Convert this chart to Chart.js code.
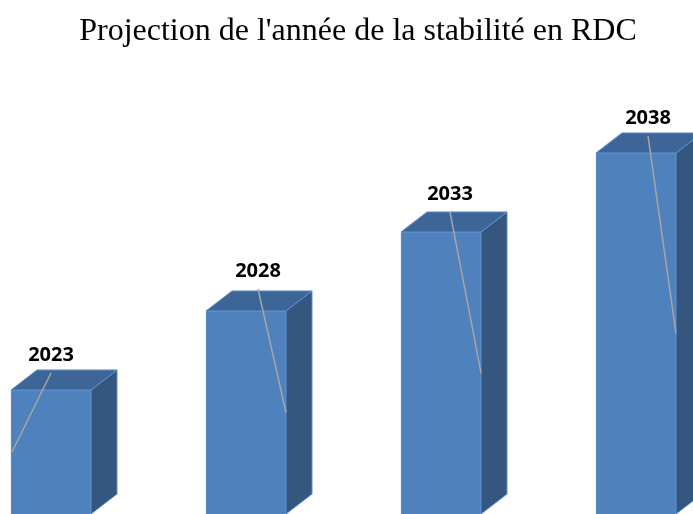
<!DOCTYPE html>
<html>
<head>
<meta charset="utf-8">
<script src="https://cdn.jsdelivr.net/npm/chart.js@4"></script>
<style>
  body { margin: 0; background: #fff; overflow: hidden; }
  #wrap { width: 693px; height: 514px; }
</style>
</head>
<body>
<div id="wrap"><canvas id="myChart" width="693" height="514"></canvas></div>
<script>
// data
const categories = ['2023', '2028', '2033', '2038'];
const years = [2023, 2028, 2033, 2038];
const title = "Projection de l'année de la stabilité en RDC";

// axis window (the picture is cropped, bars run off the bottom)
const yMin = 2015.15, yMax = 2047.68;

// look of the fake 3D bars and the moved labels
const depthX = 26, depthY = 20;
const labelShift = [0, 12, 9, 12];
const labelLift = [35, 40, 38, 35];
const leaderLeft = [true, false, false, false];

const bar3d = {
    id: 'bar3d',
    afterDatasetsDraw(chart) {
        const ctx = chart.ctx;
        const meta = chart.getDatasetMeta(0);
        meta.data.forEach((bar, i) => {
            const x = bar.x, y = bar.y, w = bar.width;
            const base = Math.min(bar.base, chart.chartArea.bottom);
            const l = x - w / 2, r = x + w / 2;
            ctx.save();
            ctx.lineWidth = 1;
            ctx.strokeStyle = '#5b8fd0';
            // side
            ctx.fillStyle = '#35567e';
            ctx.beginPath();
            ctx.moveTo(r, y);
            ctx.lineTo(r + depthX, y - depthY);
            ctx.lineTo(r + depthX, base - depthY);
            ctx.lineTo(r, base);
            ctx.closePath();
            ctx.fill();
            ctx.stroke();
            // top
            ctx.fillStyle = '#3d6597';
            ctx.beginPath();
            ctx.moveTo(l, y);
            ctx.lineTo(l + depthX, y - depthY);
            ctx.lineTo(r + depthX, y - depthY);
            ctx.lineTo(r, y);
            ctx.closePath();
            ctx.fill();
            ctx.stroke();

            // label dragged off the bar, with a leader line
            const lx = x + labelShift[i];
            const ly = y - labelLift[i];
            const tx = leaderLeft[i] ? l + 1 : r;
            const ty = (y + base) / 2;
            ctx.strokeStyle = '#a6a6a6';
            ctx.lineWidth = 1.5;
            ctx.beginPath();
            ctx.moveTo(lx, ly + 18);
            ctx.lineTo(tx, ty);
            ctx.stroke();

            ctx.fillStyle = '#000';
            ctx.font = 'bold 20px "Open Sans"';
            ctx.textAlign = 'center';
            ctx.textBaseline = 'middle';
            ctx.fillText(categories[i], lx, ly);
            ctx.restore();
        });
    },
    afterDraw(chart) {
        const ctx = chart.ctx;
        ctx.save();
        ctx.fillStyle = '#000';
        ctx.font = '32px "Liberation Serif"';
        ctx.textAlign = 'center';
        ctx.textBaseline = 'alphabetic';
        ctx.fillText(title, 358, 40);
        ctx.restore();
    }
};

const config = {
    type: 'bar',
    data: {
        labels: categories,
        datasets: [{
            data: years,
            base: yMin,
            backgroundColor: '#4f81bd',
            borderColor: '#5b8fd0',
            borderWidth: 1,
            barThickness: 80,
            clip: false,
        }]
    },
    options: {
        responsive: false,
        animation: false,
        layout: {
            padding: { left: 51, right: 57, top: 0, bottom: 0 }
        },
        plugins: {
            legend: { display: false },
            tooltip: { enabled: false },
        },
        scales: {
            x: {
                display: false,
                offset: false,
                grid: { display: false }
            },
            y: {
                display: false,
                min: yMin,
                max: yMax,
                grid: { display: false }
            }
        }
    },
    plugins: [bar3d]
};

const ctx = document.querySelector('#myChart');
let myChart = new Chart(ctx, config);
</script>
</body>
</html>
